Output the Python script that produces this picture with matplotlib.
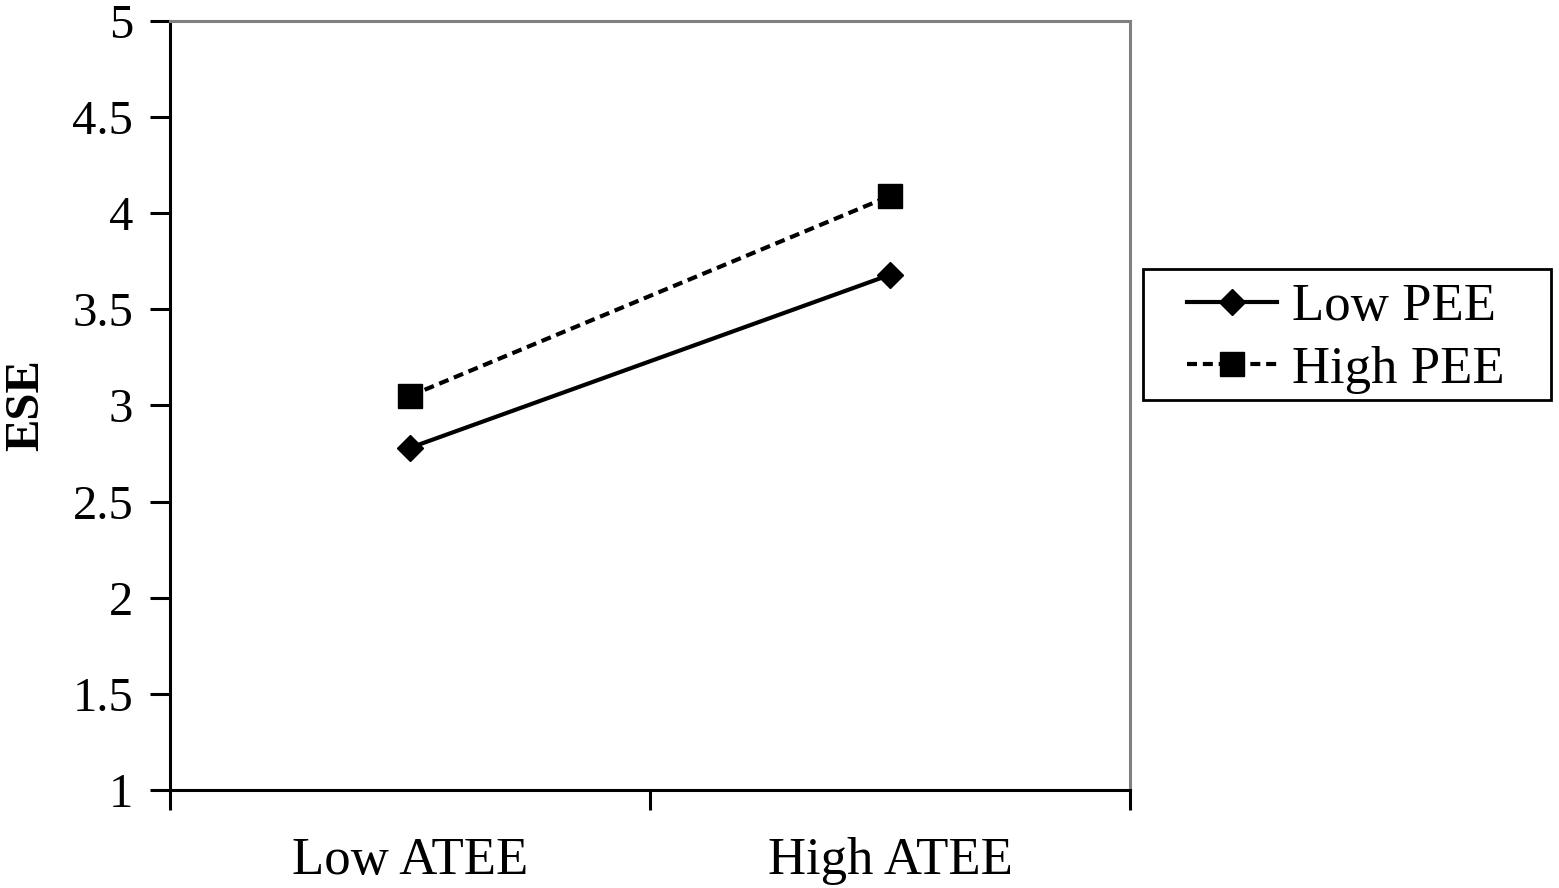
import matplotlib
matplotlib.use("Agg")
import matplotlib.pyplot as plt
from matplotlib import font_manager
from matplotlib.patches import Rectangle

# Data
categories = ["Low ATEE", "High ATEE"]
low_pee = [2.78, 3.68]
high_pee = [3.05, 4.09]
series_labels = ["Low PEE", "High PEE"]

# pick a Times-like serif if one is around
available = {f.name for f in font_manager.fontManager.ttflist}
serif = 'DejaVu Serif'
for name in ['Liberation Serif', 'Tinos', 'Times New Roman', 'FreeSerif']:
    if name in available:
        serif = name
        break
plt.rcParams['font.family'] = [serif, 'DejaVu Serif']

W, H = 1559, 888
fig = plt.figure(figsize=(W / 100, H / 100), dpi=100)
ax = fig.add_axes([170 / W, 1 - 790 / H, 960 / W, 769 / H])

x = list(range(len(categories)))

ax.plot(x, low_pee, color='black', lw=3, marker='D', ms=13,
        label=series_labels[0])
ax.plot(x, high_pee, color='black', lw=3, marker='s', ms=17,
        dashes=(2.4, 1.4), label=series_labels[1])

ax.set_xlim(-0.5, 1.5)
ax.set_ylim(1, 5)

# category labels centred, tick marks between categories
ax.set_xticks([-0.5, 0.5, 1.5])
ax.set_xticklabels([])
ax.set_xticks(x, minor=True)
ax.set_xticklabels(categories, minor=True, fontsize=38)
ax.tick_params(axis='x', which='minor', length=0, pad=34)
ax.tick_params(axis='x', which='major', direction='out', length=14.4, width=2.2)

yticks = [1, 1.5, 2, 2.5, 3, 3.5, 4, 4.5, 5]
ax.set_yticks(yticks)
ax.set_yticklabels([f"{v:g}" for v in yticks], fontsize=35)
ax.tick_params(axis='y', direction='out', length=14.4, width=2.2, pad=12)

for side in ['left', 'bottom']:
    ax.spines[side].set_color('black')
    ax.spines[side].set_linewidth(2.2)
for side in ['top', 'right']:
    ax.spines[side].set_color('#808080')
    ax.spines[side].set_linewidth(2.2)

ax.set_ylabel("ESE", fontsize=35, fontweight='bold')
ax.yaxis.label.set_verticalalignment('center')
ax.yaxis.set_label_coords(-0.15, 0.5)

# legend without its own frame, box drawn separately to match the wide frame
leg = fig.legend(loc='upper left', bbox_to_anchor=(1187 / W, 1 - 283 / H),
                 fontsize=38, frameon=False,
                 handlelength=1.7, handletextpad=0.28, borderpad=0,
                 labelspacing=0.28, borderaxespad=0)
fig.add_artist(Rectangle((1143 / W, 1 - 400 / H), 408 / W, 131 / H,
                         transform=fig.transFigure, fill=False,
                         edgecolor='black', linewidth=2))

fig.savefig("out.png", dpi=100)
